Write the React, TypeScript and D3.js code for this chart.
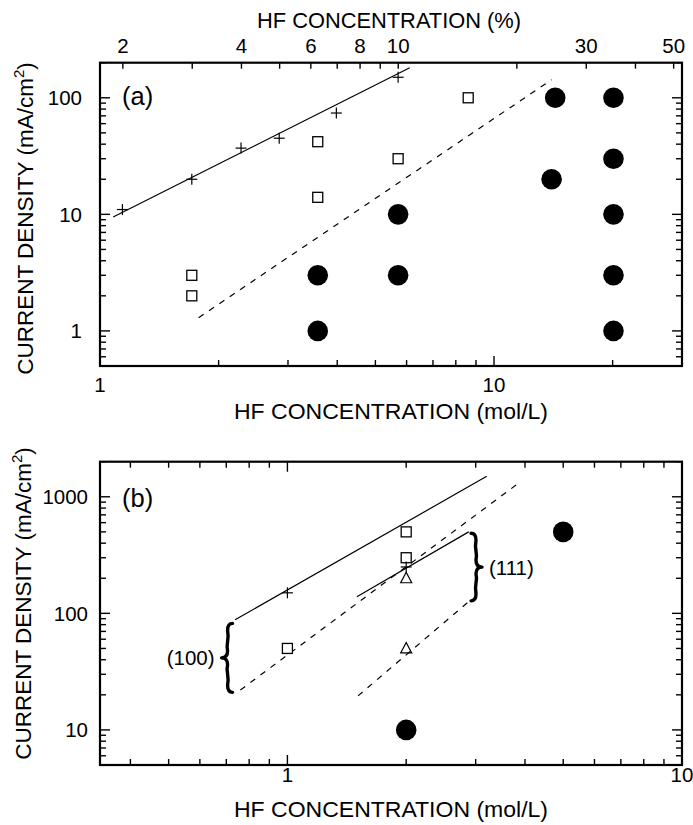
import React from 'react';
import * as d3 from 'd3';

// ---- panel (a) data: HF concentration (mol/L) vs current density (mA/cm2)
const aPlus: [number, number][] = [[1.14, 11], [1.71, 20], [2.28, 37], [2.85, 45], [3.98, 74], [5.71, 150]];
const aSquare: [number, number][] = [[1.71, 3], [1.71, 2], [3.57, 42], [3.57, 14], [5.71, 30], [8.6, 100]];
const aCircle: [number, number][] = [
  [3.57, 3], [3.57, 1], [5.71, 10], [5.71, 3], [14.3, 100], [14.0, 20],
  [20.1, 100], [20.1, 30], [20.1, 10], [20.1, 3], [20.1, 1],
];
const aSolid: [number, number][] = [[1.08, 9.5], [6.11, 181]];
const aDashed: [number, number][] = [[1.78, 1.3], [14.0, 143]];

// ---- panel (b) data
const bPlus: [number, number][] = [[1, 150], [2, 250]];
const bSquare: [number, number][] = [[1, 50], [2, 500], [2, 300]];
const bTriangle: [number, number][] = [[2, 200], [2, 50]];
const bCircle: [number, number][] = [[5, 500], [2, 10]];
const bSolid100: [number, number][] = [[0.737, 88], [3.2, 1500]];
const bDashed100: [number, number][] = [[0.76, 22], [3.82, 1280]];
const bSolid111: [number, number][] = [[1.5, 139], [2.88, 500]];
const bDashed111: [number, number][] = [[1.51, 19.6], [2.88, 126]];
const bBraces = [
  { x: 0.726, top: 82, bottom: 21, label: '(100)', dir: -1 },
  { x: 2.92, top: 486, bottom: 128, label: '(111)', dir: 1 },
];

// tick labels
const aBottomLabels = [1, 10];
const aTopLabels = [2, 4, 6, 8, 10, 30, 50];
const aLeftLabels = [1, 10, 100];
const bBottomLabels = [1, 10];
const bLeftLabels = [10, 100, 1000];

const PCT_PER_MOL = 1.75; // % HF per mol/L

const FONT = 'Liberation Sans, Arial, Helvetica, sans-serif';

const isDecade = (v: number) => Math.abs(Math.log10(v) - Math.round(Math.log10(v))) < 1e-6;

const Plus = ({ x, y }: { x: number; y: number }) => (
  <g stroke="#000" strokeWidth={1.2}>
    <line x1={x - 5.5} x2={x + 5.5} y1={y} y2={y} />
    <line x1={x} x2={x} y1={y - 5.5} y2={y + 5.5} />
  </g>
);

const Square = ({ x, y }: { x: number; y: number }) => (
  <rect x={x - 5} y={y - 5} width={10} height={10} fill="#fff" stroke="#000" strokeWidth={1.3} />
);

const Triangle = ({ x, y }: { x: number; y: number }) => (
  <path d={`M${x},${y - 6} L${x + 5.5},${y + 4.5} L${x - 5.5},${y + 4.5} Z`} fill="none" stroke="#000" strokeWidth={1.2} />
);

const Dot = ({ x, y }: { x: number; y: number }) => <circle cx={x} cy={y} r={10.3} fill="#000" />;

// curly brace: arms end at xe, tip points in dir (-1 left, +1 right)
function bracePath(xe: number, y1: number, y2: number, dir: number) {
  const w = 11;
  const xs = xe + dir * w * 0.45;
  const xt = xe + dir * w;
  const ym = (y1 + y2) / 2;
  const r = 7;
  return `M${xe},${y1} Q${xs},${y1} ${xs},${y1 + r} ` +
    `C${xs - dir * 2},${(y1 + ym) / 2} ${xs + dir * 2},${ym - r * 2} ${xs},${ym - r} Q${xs},${ym} ${xt},${ym} ` +
    `Q${xs},${ym} ${xs},${ym + r} C${xs + dir * 2},${ym + r * 2} ${xs - dir * 2},${(y2 + ym) / 2} ${xs},${y2 - r} Q${xs},${y2} ${xe},${y2}`;
}

type Frame = { left: number; right: number; top: number; bottom: number };

const LogFrame = ({
  f, x, y, topScale,
}: {
  f: Frame;
  x: d3.ScaleLogarithmic<number, number>;
  y: d3.ScaleLogarithmic<number, number>;
  topScale?: d3.ScaleLogarithmic<number, number>;
}) => {
  const xt = x.ticks();
  const yt = y.ticks();
  const tl = (v: number) => (isDecade(v) ? 10 : 6);
  return (
    <g stroke="#000">
      {xt.map((v, i) => (
        <g key={'x' + i} strokeWidth={1.4}>
          <line x1={x(v)} x2={x(v)} y1={f.bottom} y2={f.bottom - tl(v)} />
          {!topScale && <line x1={x(v)} x2={x(v)} y1={f.top} y2={f.top + tl(v)} />}
        </g>
      ))}
      {topScale && topScale.ticks().map((v, i) => (
        <line key={'t' + i} x1={topScale(v)} x2={topScale(v)} y1={f.top} y2={f.top + 6} strokeWidth={1.4} />
      ))}
      {yt.map((v, i) => (
        <g key={'y' + i} strokeWidth={1.4}>
          <line x1={f.left} x2={f.left + tl(v)} y1={y(v)} y2={y(v)} />
          <line x1={f.right} x2={f.right - tl(v)} y1={y(v)} y2={y(v)} />
        </g>
      ))}
      <rect x={f.left} y={f.top} width={f.right - f.left} height={f.bottom - f.top} fill="none" strokeWidth={2.2} />
    </g>
  );
};

const YTitle = ({ x, y }: { x: number; y: number }) => (
  <text transform={`translate(${x},${y}) rotate(-90)`} textAnchor="middle" fontSize={22.5} fontFamily={FONT}>
    CURRENT DENSITY (mA/cm<tspan fontSize={15} dy={-9}>2</tspan><tspan dy={9}>)</tspan>
  </text>
);

export default function App() {
  // panel (a)
  const fa: Frame = { left: 100, right: 682, top: 62.7, bottom: 366 };
  const xa = d3.scaleLog().domain([1, 30]).range([fa.left, fa.right]);
  const xaTop = d3.scaleLog().domain([1 * PCT_PER_MOL, 30 * PCT_PER_MOL]).range([fa.left, fa.right]);
  const ya = d3.scaleLog().domain([0.5, 200]).range([fa.bottom, fa.top]);

  // panel (b)
  const fb: Frame = { left: 100, right: 682, top: 461.7, bottom: 765 };
  const xb = d3.scaleLog().domain([0.335, 10]).range([fb.left, fb.right]);
  const yb = d3.scaleLog().domain([5, 2000]).range([fb.bottom, fb.top]);

  const lineA = d3.line<[number, number]>().x((d) => xa(d[0])).y((d) => ya(d[1]));
  const lineB = d3.line<[number, number]>().x((d) => xb(d[0])).y((d) => yb(d[1]));

  return (
    <svg width={693} height={825} style={{ position: 'absolute', left: 0, top: 0, background: '#fff' }}>
      <rect width={693} height={825} fill="#fff" />

      {/* ---------- (a) ---------- */}
      <LogFrame f={fa} x={xa} y={ya} topScale={xaTop} />
      <g fontFamily={FONT} fontSize={20.5}>
        <text x={389} y={28} textAnchor="middle" fontSize={21.5} textLength={264} lengthAdjust="spacingAndGlyphs">HF CONCENTRATION (%)</text>
        {aTopLabels.map((v) => (
          <text key={v} x={xaTop(v)} y={52.7} textAnchor="middle">{v}</text>
        ))}
        {aLeftLabels.map((v) => (
          <text key={v} x={82} y={ya(v) + 7.5} textAnchor="end">{v}</text>
        ))}
        {aBottomLabels.map((v) => (
          <text key={v} x={xa(v)} y={392} textAnchor="middle">{v}</text>
        ))}
        <text x={391} y={419} textAnchor="middle" fontSize={21.5} textLength={314} lengthAdjust="spacingAndGlyphs">HF CONCENTRATION (mol/L)</text>
        <text x={122} y={105} fontSize={25.5}>(a)</text>
      </g>
      <YTitle x={32.5} y={218.5} />

      <path d={lineA(aSolid) ?? ''} fill="none" stroke="#000" strokeWidth={1.2} />
      <path d={lineA(aDashed) ?? ''} fill="none" stroke="#000" strokeWidth={1.2} strokeDasharray="6,6.5" />
      {aPlus.map((d, i) => <Plus key={i} x={xa(d[0])} y={ya(d[1])} />)}
      {aSquare.map((d, i) => <Square key={i} x={xa(d[0])} y={ya(d[1])} />)}
      {aCircle.map((d, i) => <Dot key={i} x={xa(d[0])} y={ya(d[1])} />)}

      {/* ---------- (b) ---------- */}
      <LogFrame f={fb} x={xb} y={yb} />
      <g fontFamily={FONT} fontSize={20.5}>
        {bLeftLabels.map((v) => (
          <text key={v} x={88} y={yb(v) + 7.5} textAnchor="end">{v}</text>
        ))}
        {bBottomLabels.map((v) => (
          <text key={v} x={xb(v)} y={782} textAnchor="middle">{v}</text>
        ))}
        <text x={391} y={817} textAnchor="middle" fontSize={21.5} textLength={314} lengthAdjust="spacingAndGlyphs">HF CONCENTRATION (mol/L)</text>
        <text x={122} y={507} fontSize={25.5}>(b)</text>
      </g>
      <YTitle x={30.5} y={603.5} />

      <path d={lineB(bSolid100) ?? ''} fill="none" stroke="#000" strokeWidth={1.2} />
      <path d={lineB(bDashed100) ?? ''} fill="none" stroke="#000" strokeWidth={1.2} strokeDasharray="6,6.5" />
      <path d={lineB(bSolid111) ?? ''} fill="none" stroke="#000" strokeWidth={1.2} />
      <path d={lineB(bDashed111) ?? ''} fill="none" stroke="#000" strokeWidth={1.2} strokeDasharray="6,6.5" />
      {bSquare.map((d, i) => <Square key={i} x={xb(d[0])} y={yb(d[1])} />)}
      {bTriangle.map((d, i) => <Triangle key={i} x={xb(d[0])} y={yb(d[1])} />)}
      {bPlus.map((d, i) => <Plus key={i} x={xb(d[0])} y={yb(d[1])} />)}
      {bCircle.map((d, i) => <Dot key={i} x={xb(d[0])} y={yb(d[1])} />)}

      {bBraces.map((b) => {
        const y1 = yb(b.top);
        const y2 = yb(b.bottom);
        const xe = xb(b.x);
        const tip = xe + b.dir * 11;
        return (
          <g key={b.label}>
            <path d={bracePath(xe, y1, y2, b.dir)} fill="none" stroke="#000" strokeWidth={3.4} strokeLinecap="round" strokeLinejoin="round" />
            <text
              x={tip + b.dir * 7}
              y={(y1 + y2) / 2 + 7.5}
              textAnchor={b.dir < 0 ? 'end' : 'start'}
              fontFamily={FONT}
              fontSize={20.5}
            >
              {b.label}
            </text>
          </g>
        );
      })}
    </svg>
  );
}
